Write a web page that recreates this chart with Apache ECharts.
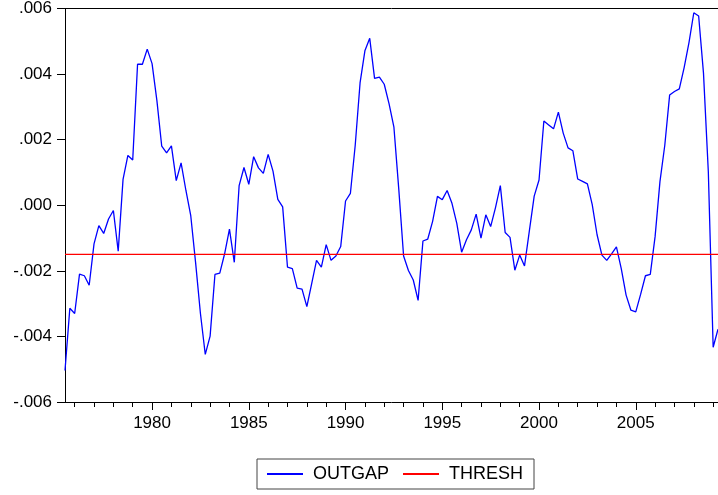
<!DOCTYPE html>
<html>
<head>
<meta charset="utf-8">
<script src="https://cdn.jsdelivr.net/npm/echarts@6/dist/echarts.min.js"></script>
<style>
  html, body { margin: 0; padding: 0; background: #fff; }
  #chart { width: 718px; height: 495px; }
</style>
</head>
<body>
<div id="chart"></div>
<script>
// Quarterly output gap, 1975Q3 - 2009Q2
const startYear = 1975;
const startQuarter = 3;

const outgap = [
  -0.00504, -0.00314, -0.00330, -0.00210, -0.00215, -0.00244, -0.00118, -0.00062,
  -0.00086, -0.00042, -0.00016, -0.00140, 0.00079, 0.00152, 0.00138, 0.00430,
  0.00430, 0.00476, 0.00432, 0.00319, 0.00180, 0.00160, 0.00181, 0.00075,
  0.00129, 0.00045, -0.00032, -0.00175, -0.00330, -0.00455, -0.00399, -0.00211,
  -0.00207, -0.00148, -0.00073, -0.00174, 0.00060, 0.00115, 0.00064, 0.00148,
  0.00114, 0.00097, 0.00155, 0.00104, 0.00018, -0.00005, -0.00189, -0.00193,
  -0.00253, -0.00256, -0.00309, -0.00239, -0.00168, -0.00189, -0.00120, -0.00168,
  -0.00155, -0.00126, 0.00013, 0.00036, 0.00183, 0.00373, 0.00471, 0.00509,
  0.00387, 0.00391, 0.00369, 0.00309, 0.00238, 0.00050, -0.00155, -0.00199,
  -0.00228, -0.00290, -0.00109, -0.00103, -0.00049, 0.00027, 0.00017, 0.00045,
  0.00006, -0.00055, -0.00143, -0.00105, -0.00075, -0.00027, -0.00100, -0.00029,
  -0.00065, -0.00007, 0.00060, -0.00083, -0.00098, -0.00198, -0.00152, -0.00185,
  -0.00078, 0.00028, 0.00077, 0.00257, 0.00245, 0.00233, 0.00284, 0.00220,
  0.00175, 0.00166, 0.00080, 0.00073, 0.00065, 0.00002, -0.00090, -0.00152,
  -0.00168, -0.00148, -0.00127, -0.00193, -0.00274, -0.00320, -0.00325, -0.00272,
  -0.00215, -0.00211, -0.00095, 0.00072, 0.00183, 0.00336, 0.00347, 0.00355,
  0.00420, 0.00496, 0.00587, 0.00577, 0.00403, 0.00102, -0.00433, -0.00378
];

const threshLevel = -0.0015;

const yTicks = [-0.006, -0.004, -0.002, 0.000, 0.002, 0.004, 0.006];

// Quarter labels, e.g. "1975Q3"
const quarters = outgap.map(function (_, i) {
  const q = startQuarter - 1 + i;
  return (startYear + Math.floor(q / 4)) + 'Q' + (q % 4 + 1);
});
const thresh = quarters.map(function () { return threshLevel; });

function isYearStart(v) { return /Q1$/.test(v); }
function isMajorYear(v) { return isYearStart(v) && parseInt(v, 10) % 5 === 0; }

const chart = echarts.init(document.getElementById('chart'), null, { renderer: 'canvas' });

const baseFont = 'Liberation Sans, Arial, Helvetica, sans-serif';

chart.setOption({
  animation: false,
  backgroundColor: '#ffffff',
  grid: {
    left: 65, right: 0, top: 6, bottom: 93,
    show: false
  },
  xAxis: [
    {
      // year labels with long ticks every five years
      type: 'category',
      data: quarters,
      boundaryGap: false,
      position: 'bottom',
      axisLine: { show: true, onZero: false, lineStyle: { color: '#000', width: 1 } },
      axisTick: {
        show: true, inside: false, length: 8,
        lineStyle: { color: '#000', width: 1 },
        interval: function (i, v) { return isMajorYear(v); }
      },
      axisLabel: {
        show: true, color: '#000', fontSize: 17, fontFamily: baseFont, margin: 13,
        interval: function (i, v) { return isMajorYear(v); },
        formatter: function (v) { return v.slice(0, 4); }
      },
      splitLine: { show: false }
    },
    {
      // short ticks at every year
      type: 'category',
      data: quarters,
      boundaryGap: false,
      position: 'bottom',
      axisLine: { show: false, onZero: false },
      axisTick: {
        show: true, inside: false, length: 5,
        lineStyle: { color: '#000', width: 1 },
        interval: function (i, v) { return isYearStart(v); }
      },
      axisLabel: { show: false },
      splitLine: { show: false }
    },
    {
      // top frame line
      type: 'category',
      data: quarters,
      boundaryGap: false,
      position: 'top',
      axisLine: { show: true, onZero: false, lineStyle: { color: '#000', width: 1 } },
      axisTick: { show: false },
      axisLabel: { show: false },
      splitLine: { show: false }
    }
  ],
  yAxis: {
    type: 'value',
    min: yTicks[0],
    max: yTicks[yTicks.length - 1],
    interval: 0.002,
    axisLine: { show: true, onZero: false, lineStyle: { color: '#000', width: 1 } },
    axisTick: { show: true, inside: false, length: 8, lineStyle: { color: '#000', width: 1 } },
    axisLabel: {
      color: '#000', fontSize: 17, fontFamily: baseFont, margin: 13,
      formatter: function (v) {
        return v.toFixed(3).replace('0.', '.');
      }
    },
    splitLine: { show: false }
  },
  legend: {
    left: 257, top: 459,
    orient: 'horizontal',
    padding: [6, 11, 6, 10],
    itemGap: 14,
    itemWidth: 36,
    itemHeight: 2,
    icon: 'rect',
    borderColor: '#444',
    borderWidth: 1,
    backgroundColor: '#fff',
    textStyle: { color: '#000', fontSize: 18, fontFamily: baseFont, padding: [0, 0, 0, 5] },
    data: ['OUTGAP', 'THRESH']
  },
  series: [
    {
      name: 'OUTGAP', type: 'line', data: outgap,
      symbol: 'none', color: '#0000ff',
      lineStyle: { color: '#0000ff', width: 1.3 }
    },
    {
      name: 'THRESH', type: 'line', data: thresh,
      symbol: 'none', color: '#ff0000',
      lineStyle: { color: '#ff0000', width: 1.3 }
    }
  ]
});
</script>
</body>
</html>
